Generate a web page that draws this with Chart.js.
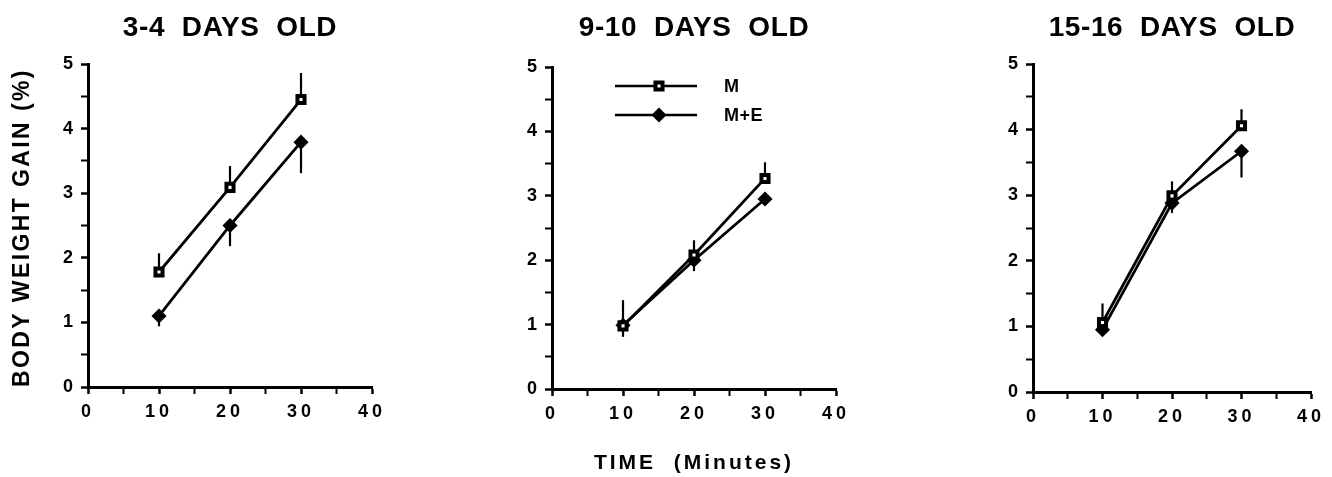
<!DOCTYPE html>
<html>
<head>
<meta charset="utf-8">
<script src="https://cdn.jsdelivr.net/npm/chart.js@4/dist/chart.umd.min.js"></script>
<style>
  html, body { margin: 0; padding: 0; background: #fff; }
  #page { position: relative; width: 1332px; height: 477px; overflow: hidden; }
  .panel { position: absolute; top: 0; height: 477px; }
</style>
</head>
<body>
<div id="page">
  <div class="panel" style="left:0;width:450px"><canvas id="chart1"></canvas></div>
  <div class="panel" style="left:450px;width:440px"><canvas id="chart2"></canvas></div>
  <div class="panel" style="left:900px;width:432px"><canvas id="chart3"></canvas></div>
</div>
<script>
const FONT = "'Liberation Sans', Arial, Helvetica, sans-serif";

const times = [10, 20, 30];
const xTicks = [0, 10, 20, 30, 40];
const yTicks = [0, 1, 2, 3, 4, 5];
const seriesLabels = ["M", "M+E"];
const panelTitles = ["3-4  DAYS  OLD", "9-10  DAYS  OLD", "15-16  DAYS  OLD"];
const yAxisTitle = "BODY WEIGHT GAIN (%)";
const xAxisTitle = "TIME  (Minutes)";

// 3-4 days old
const m_3_4 = [1.78, 3.09, 4.45];
const mSem_3_4 = [0.29, 0.33, 0.41];
const me_3_4 = [1.10, 2.50, 3.79];
const meSem_3_4 = [0.16, 0.32, 0.48];

// 9-10 days old
const m_9_10 = [0.98, 2.08, 3.27];
const mSem_9_10 = [0.40, 0.23, 0.25];
const me_9_10 = [0.99, 2.00, 2.95];
const meSem_9_10 = [0.18, 0.17, 0.08];

// 15-16 days old
const m_15_16 = [1.06, 2.99, 4.06];
const mSem_15_16 = [0.29, 0.22, 0.25];
const me_15_16 = [0.95, 2.88, 3.67];
const meSem_15_16 = [0.08, 0.15, 0.40];

const PANELS = [
  { id: "chart1", title: panelTitles[0], m: m_3_4, mSem: mSem_3_4, me: me_3_4, meSem: meSem_3_4,
    yWidth: 88, xHeight: 90, titleGap: 19.4, rightPad: 78, yTitle: true, xTitle: false, legend: false },
  { id: "chart2", title: panelTitles[1], m: m_9_10, mSem: mSem_9_10, me: me_9_10, meSem: meSem_9_10,
    yWidth: 102, xHeight: 88, titleGap: 22.4, rightPad: 54, yTitle: false, xTitle: true, legend: true },
  { id: "chart3", title: panelTitles[2], m: m_15_16, mSem: mSem_15_16, me: me_15_16, meSem: meSem_15_16,
    yWidth: 133, xHeight: 85, titleGap: 19.4, rightPad: 21, yTitle: false, xTitle: false, legend: false }
];

function toPoints(values) {
  return values.map((v, i) => ({ x: times[i], y: v }));
}

// wrap label/title drawing of a scale so its text gets some letter spacing
function spaceText(scale, labelPx, titlePx) {
  if (scale.$spaced) return;
  scale.$spaced = true;
  const drawLabels = scale.drawLabels;
  const drawTitle = scale.drawTitle;
  scale.drawLabels = function (area) {
    const prev = this.ctx.letterSpacing;
    this.ctx.letterSpacing = labelPx + "px";
    drawLabels.call(this, area);
    this.ctx.letterSpacing = prev;
  };
  scale.drawTitle = function () {
    const prev = this.ctx.letterSpacing;
    this.ctx.letterSpacing = titlePx + "px";
    drawTitle.call(this);
    this.ctx.letterSpacing = prev;
  };
}

const titleSpacingPlugin = {
  id: "titleSpacing",
  beforeDraw(chart) { chart.ctx.letterSpacing = "0.6px"; },
  afterDraw(chart) { chart.ctx.letterSpacing = "0px"; }
};

const errorBarPlugin = {
  id: "errorBars",
  beforeDatasetsDraw(chart) {
    const { ctx } = chart;
    const yScale = chart.scales.y;
    ctx.save();
    ctx.strokeStyle = "#000";
    ctx.lineWidth = 2.2;
    chart.data.datasets.forEach((ds, i) => {
      const meta = chart.getDatasetMeta(i);
      meta.data.forEach((pt, j) => {
        const end = ds.data[j].y + ds.errorDir * ds.errors[j];
        ctx.beginPath();
        ctx.moveTo(pt.x, pt.y);
        ctx.lineTo(pt.x, yScale.getPixelForValue(end));
        ctx.stroke();
      });
    });
    ctx.restore();
  }
};

const insetLegendPlugin = {
  id: "insetLegend",
  afterDatasetsDraw(chart, args, opts) {
    if (!opts.show) return;
    const { ctx, chartArea } = chart;
    chart.data.datasets.forEach((ds, i) => {
      const x0 = chartArea.left + opts.left;
      const y = chartArea.top + opts.top + i * opts.rowGap;
      ctx.save();
      ctx.strokeStyle = "#000";
      ctx.lineWidth = 2.4;
      ctx.beginPath();
      ctx.moveTo(x0, y);
      ctx.lineTo(x0 + opts.lineLength, y);
      ctx.stroke();
      ctx.fillStyle = ds.pointBackgroundColor;
      ctx.strokeStyle = ds.pointBorderColor;
      ctx.lineWidth = ds.pointBorderWidth;
      Chart.helpers.drawPoint(ctx, {
        pointStyle: ds.pointStyle,
        radius: ds.pointRadius,
        borderWidth: ds.pointBorderWidth,
        rotation: 0
      }, x0 + opts.markerX, y);
      ctx.letterSpacing = "0.5px";
      ctx.fillStyle = "#000";
      ctx.font = "bold 18px " + FONT;
      ctx.textAlign = "left";
      ctx.textBaseline = "middle";
      ctx.fillText(ds.label, chartArea.left + opts.textX, y + 1);
      ctx.restore();
    });
  }
};

function buildChart(p) {
  const ctx = document.getElementById(p.id);
  return new Chart(ctx, {
    type: "line",
    data: {
      datasets: [
        {
          label: seriesLabels[0],
          data: toPoints(p.m),
          errors: p.mSem,
          errorDir: 1,
          borderColor: "#000",
          borderWidth: 2.8,
          pointStyle: "rect",
          pointRadius: 5,
          pointBorderWidth: 4,
          pointBackgroundColor: "#fff",
          pointBorderColor: "#000",
          tension: 0,
          order: 0
        },
        {
          label: seriesLabels[1],
          data: toPoints(p.me),
          errors: p.meSem,
          errorDir: -1,
          borderColor: "#000",
          borderWidth: 2.8,
          pointStyle: "rectRot",
          pointRadius: 6.5,
          pointBorderWidth: 1.5,
          pointBackgroundColor: "#000",
          pointBorderColor: "#000",
          tension: 0,
          order: 1
        }
      ]
    },
    options: {
      responsive: true,
      maintainAspectRatio: false,
      animation: false,
      events: [],
      layout: { padding: { left: 0, right: p.rightPad, top: 0, bottom: 0 } },
      plugins: {
        legend: { display: false },
        tooltip: { enabled: false },
        title: {
          display: true,
          text: p.title,
          fullSize: false,
          color: "#000",
          font: { family: FONT, size: 28, weight: "bold" },
          padding: { top: 11, bottom: p.titleGap }
        },
        insetLegend: { show: p.legend, left: 63, top: 19, rowGap: 29, lineLength: 82, markerX: 44, textX: 172 }
      },
      scales: {
        x: {
          type: "linear",
          min: 0,
          max: 40,
          ticks: {
            stepSize: 5,
            autoSkip: false,
            maxRotation: 0,
            color: "#000",
            padding: 7,
            font: { family: FONT, size: 18, weight: "bold" },
            callback: v => (xTicks.includes(v) ? String(v) : "")
          },
          grid: {
            drawOnChartArea: false,
            drawTicks: true,
            tickLength: 7,
            tickColor: "#000",
            tickWidth: c => (xTicks.includes(c.tick.value) ? 2.5 : 2)
          },
          border: { display: true, color: "#000", width: 3 },
          title: {
            display: p.xTitle,
            text: xAxisTitle,
            color: "#000",
            font: { family: FONT, size: 21, weight: "bold" },
            padding: { top: 0, bottom: 1 }
          },
          afterFit: scale => {
            scale.height = p.xHeight;
            spaceText(scale, 4, 3);
          }
        },
        y: {
          min: 0,
          max: 5,
          ticks: {
            stepSize: 0.5,
            autoSkip: false,
            color: "#000",
            padding: 8,
            font: { family: FONT, size: 18, weight: "bold" },
            callback: v => (yTicks.includes(v) ? String(v) : "")
          },
          grid: {
            drawOnChartArea: false,
            drawTicks: true,
            tickLength: 7,
            tickColor: "#000",
            tickWidth: c => (yTicks.includes(c.tick.value) ? 2.5 : 2)
          },
          border: { display: true, color: "#000", width: 3 },
          title: {
            display: p.yTitle,
            text: yAxisTitle,
            align: "start",
            color: "#000",
            font: { family: FONT, size: 23, weight: "bold" },
            padding: { top: 9, bottom: 0 }
          },
          afterFit: scale => {
            scale.width = p.yWidth;
            spaceText(scale, 0, 2.4);
          }
        }
      }
    },
    plugins: [titleSpacingPlugin, errorBarPlugin, insetLegendPlugin]
  });
}

PANELS.forEach(buildChart);
</script>
</body>
</html>
